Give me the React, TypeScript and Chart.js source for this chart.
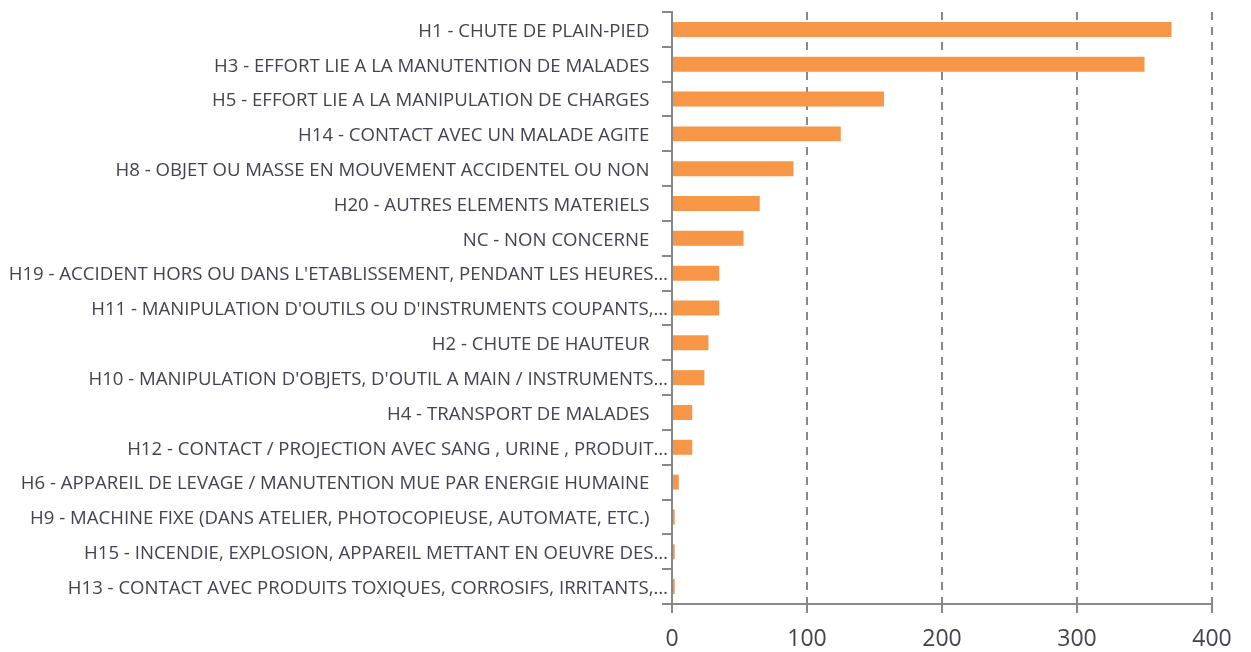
import { useEffect, useRef } from 'react';
import { Chart, registerables } from 'chart.js';

Chart.register(...registerables);

const categories: string[] = [
  'H1 - CHUTE DE PLAIN-PIED',
  'H3 - EFFORT LIE A LA MANUTENTION DE MALADES',
  'H5 - EFFORT LIE A LA MANIPULATION DE CHARGES',
  'H14 - CONTACT AVEC UN MALADE AGITE',
  'H8 - OBJET OU MASSE EN MOUVEMENT ACCIDENTEL OU NON',
  'H20 - AUTRES ELEMENTS MATERIELS',
  'NC - NON CONCERNE',
  "H19 - ACCIDENT HORS OU DANS L'ETABLISSEMENT, PENDANT LES HEURES…",
  "H11 - MANIPULATION D'OUTILS OU D'INSTRUMENTS COUPANTS,…",
  'H2 - CHUTE DE HAUTEUR',
  "H10 - MANIPULATION D'OBJETS, D'OUTIL A MAIN / INSTRUMENTS…",
  'H4 - TRANSPORT DE MALADES',
  'H12 - CONTACT / PROJECTION AVEC SANG , URINE , PRODUIT…',
  'H6 - APPAREIL DE LEVAGE / MANUTENTION MUE PAR ENERGIE HUMAINE',
  'H9 - MACHINE FIXE (DANS ATELIER, PHOTOCOPIEUSE, AUTOMATE, ETC.)',
  'H15 - INCENDIE, EXPLOSION, APPAREIL METTANT EN OEUVRE DES…',
  'H13 - CONTACT AVEC PRODUITS TOXIQUES, CORROSIFS, IRRITANTS,…',
];

const values: number[] = [370, 350, 157, 125, 90, 65, 53, 35, 35, 27, 24, 15, 15, 5, 2, 2, 2];

const xMin = 0;
const xMax = 400;
const xStep = 100;

const BAR_COLOR = '#F79646';
const AXIS_COLOR = '#888888';
const TEXT_COLOR = '#43434f';
const FONT = "'Open Sans', 'Noto Sans', sans-serif";

export default function App() {
  const ref = useRef<HTMLCanvasElement>(null);

  useEffect(() => {
    if (!ref.current) return;
    const chart = new Chart(ref.current, {
      type: 'bar',
      data: {
        labels: categories,
        datasets: [
          {
            data: values,
            backgroundColor: BAR_COLOR,
            borderWidth: 0,
            barPercentage: 0.43,
            categoryPercentage: 1,
          },
        ],
      },
      options: {
        indexAxis: 'y',
        animation: false,
        responsive: true,
        maintainAspectRatio: false,
        layout: { padding: { top: 12, right: 39, left: 0, bottom: 0 } },
        plugins: {
          legend: { display: false },
          tooltip: { enabled: false },
        },
        scales: {
          x: {
            min: xMin,
            max: xMax,
            afterFit: (scale: any) => {
              scale.height = 48;
            },
            ticks: {
              stepSize: xStep,
              color: TEXT_COLOR,
              font: { family: FONT, size: 23 },
              padding: 13,
            },
            grid: {
              color: AXIS_COLOR,
              lineWidth: 2,
              tickLength: 9,
              tickBorderDash: [],
            },
            border: {
              display: true,
              color: AXIS_COLOR,
              width: 2,
              dash: [8, 7],
            },
          },
          y: {
            afterFit: (scale: any) => {
              scale.width = 672;
            },
            ticks: {
              color: TEXT_COLOR,
              font: { family: FONT, size: 18.6 },
              padding: -6,
              labelOffset: 2,
              autoSkip: false,
              callback: function (this: any, value: any) {
                const label: string = this.getLabelForValue(value);
                return label.endsWith('…') ? label : label + '\u2003';
              },
            },
            grid: {
              drawOnChartArea: false,
              drawTicks: true,
              tickLength: 10,
              color: AXIS_COLOR,
              lineWidth: 2,
            },
            border: {
              display: true,
              color: AXIS_COLOR,
              width: 2,
            },
          },
        },
      },
    });
    return () => chart.destroy();
  }, []);

  return (
    <div style={{ position: 'absolute', left: 0, top: 0, width: 1251, height: 652, background: '#fff' }}>
      <canvas ref={ref} style={{ display: 'block' }} />
    </div>
  );
}
